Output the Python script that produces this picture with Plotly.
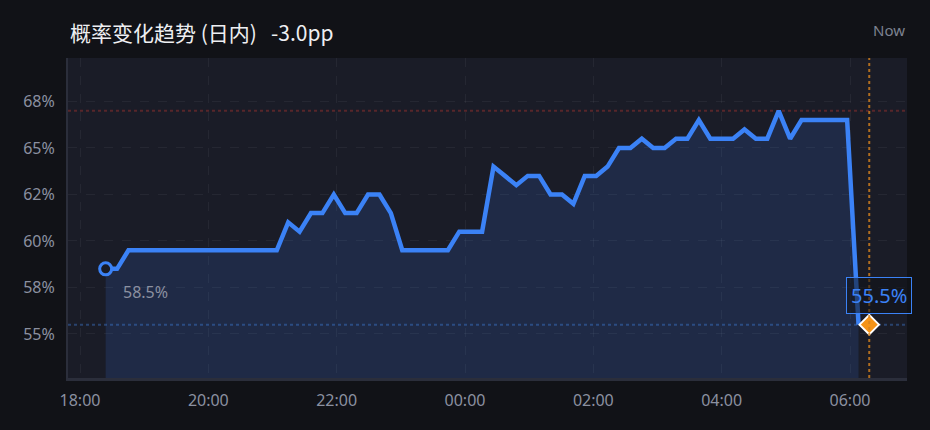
import pandas as pd
import plotly.graph_objects as go

# probabilidade (%) amostrada a cada ~10m40s, de 18:24 até 06:08
inicio = pd.Timestamp("2024-01-01 18:24")
valores = [
    58.5, 58.5, 59.5, 59.5, 59.5, 59.5, 59.5, 59.5, 59.5, 59.5,
    59.5, 59.5, 59.5, 59.5, 59.5, 59.5, 61.0, 60.5, 61.5, 61.5,
    62.5, 61.5, 61.5, 62.5, 62.5, 61.5, 59.5, 59.5, 59.5, 59.5,
    59.5, 60.5, 60.5, 60.5, 64.0, 63.5, 63.0, 63.5, 63.5, 62.5,
    62.5, 62.0, 63.5, 63.5, 64.0, 65.0, 65.0, 65.5, 65.0, 65.0,
    65.5, 65.5, 66.5, 65.5, 65.5, 65.5, 66.0, 65.5, 65.5, 67.0,
    65.5, 66.5, 66.5, 66.5, 66.5, 66.5, 55.5,
]
tempos = pd.date_range(inicio, periods=len(valores), freq="640s")

agora = pd.Timestamp("2024-01-02 06:18")
valor_atual = 55.5
valor_max = max(valores)
variacao = -3.0

y_ticks = [55, 57.5, 60, 62.5, 65, 67.5]
y_labels = ["55%", "58%", "60%", "62%", "65%", "68%"]
x_ticks = pd.date_range("2024-01-01 18:00", "2024-01-02 06:00", freq="2h")

AZUL = "#3b82f6"
LARANJA = "#f59316"
FONTE = "Noto Sans, Noto Sans CJK SC, sans-serif"

fig = go.Figure()

fig.add_trace(go.Scatter(
    x=tempos, y=valores,
    mode="lines",
    line=dict(color=AZUL, width=4.5),
    fill="tozeroy",
    fillcolor="rgba(59,130,246,0.15)",
    hoverinfo="skip",
    showlegend=False,
))

# ponto inicial (círculo vazado)
fig.add_trace(go.Scatter(
    x=[tempos[0]], y=[valores[0]],
    mode="markers",
    marker=dict(symbol="circle", size=12, color="#191b26",
                line=dict(color=AZUL, width=3)),
    showlegend=False,
))

# valor atual (diamante)
fig.add_trace(go.Scatter(
    x=[agora], y=[valor_atual],
    mode="markers",
    marker=dict(symbol="diamond", size=15, color=LARANJA,
                line=dict(color="white", width=2)),
    showlegend=False,
))

# linhas de referência
fig.add_shape(type="line", xref="paper", x0=0, x1=1, y0=valor_max, y1=valor_max,
              line=dict(color="rgba(130,45,45,0.6)", width=2, dash="dot"), layer="below")
fig.add_shape(type="line", xref="paper", x0=0, x1=1, y0=valor_atual, y1=valor_atual,
              line=dict(color="rgba(55,100,170,0.55)", width=2, dash="dot"), layer="below")
fig.add_shape(type="line", yref="paper", x0=agora, x1=agora, y0=0, y1=1,
              line=dict(color="rgba(214,130,30,0.8)", width=2, dash="dot"))

fig.add_annotation(
    x=tempos[0], y=valores[0], text=f"{valores[0]}%",
    xanchor="left", yanchor="middle", xshift=15, yshift=-23,
    showarrow=False, font=dict(color="#8b90a0", size=16, family=FONTE),
)
fig.add_annotation(
    x=agora, y=valor_atual, text=f"{valor_atual}%",
    xanchor="center", yanchor="middle", xshift=10, yshift=29,
    showarrow=False, font=dict(color=AZUL, size=20, family=FONTE),
    bordercolor=AZUL, borderwidth=1, borderpad=4, bgcolor="rgba(17,18,23,0.55)",
)
fig.add_annotation(
    xref="paper", yref="paper", x=0, y=1.081,
    text="概率变化趋势 (日内)&nbsp;&nbsp;&nbsp;" + f"{variacao:.1f}pp",
    xanchor="left", yanchor="middle", showarrow=False,
    font=dict(color="#eeeff2", size=21, family="Noto Sans CJK SC, Noto Sans, sans-serif"),
)
fig.add_annotation(
    xref="paper", yref="paper", x=1, y=1.0875, text="Now",
    xanchor="right", yanchor="middle", showarrow=False,
    font=dict(color="#7d8291", size=15, family=FONTE),
)

fig.update_layout(
    width=930, height=430,
    margin=dict(l=68, r=23, t=58, b=52),
    paper_bgcolor="#111217",
    plot_bgcolor="#1a1c27",
    font=dict(family=FONTE, color="#8b90a0", size=16),
    showlegend=False,
    xaxis=dict(
        range=[pd.Timestamp("2024-01-01 17:48:47"), pd.Timestamp("2024-01-02 06:53:18")],
        tickvals=x_ticks, tickformat="%H:%M",
        showgrid=True, gridcolor="rgba(255,255,255,0.05)", griddash="dash",
        showline=True, linecolor="#2b2e3b", linewidth=3,
        zeroline=False, ticks="", ticklabelstandoff=6,
    ),
    yaxis=dict(
        range=[52.63, 69.84],
        tickvals=y_ticks, ticktext=y_labels,
        showgrid=True, gridcolor="rgba(255,255,255,0.05)", griddash="dash",
        showline=True, linecolor="#2b2e3b", linewidth=2,
        zeroline=False, ticks="", ticklabelstandoff=8,
    ),
)

fig.write_html("out.html", config={"displayModeBar": False},
               post_script="document.body.style.margin='0';")
